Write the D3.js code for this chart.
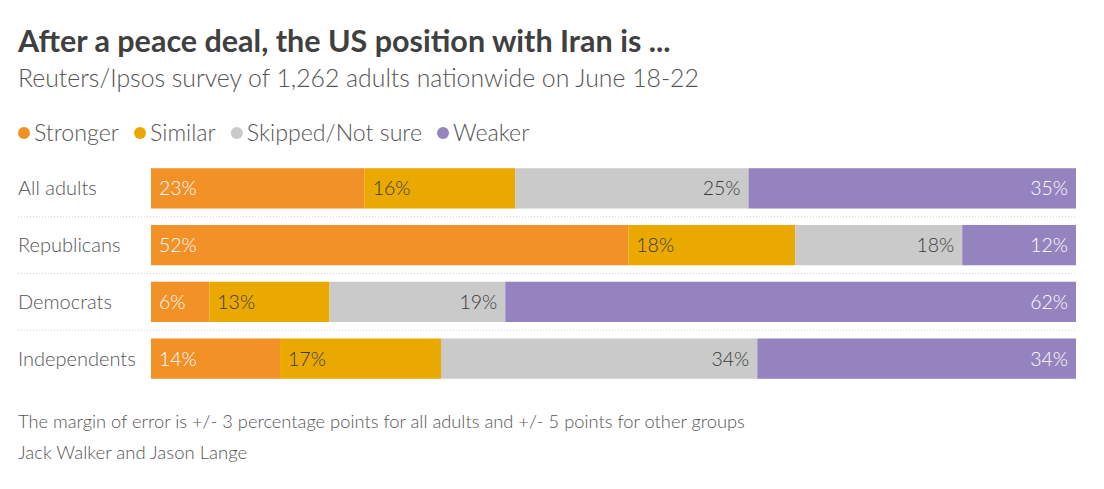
<!DOCTYPE html>
<html>
<head>
<meta charset="utf-8">
<script src="https://cdn.jsdelivr.net/npm/d3@7"></script>
<style>
  body { margin: 0; background: #fff; }
  svg text { font-family: Lato, "Open Sans", sans-serif; }
</style>
</head>
<body>
<div id="chart"></div>
<script>
// groups (rows), top to bottom
var groups = ["All adults", "Republicans", "Democrats", "Independents"];

// answer categories, left to right
var answers = ["Stronger", "Similar", "Skipped/Not sure", "Weaker"];
var colors = ["#f39129", "#e9a900", "#cacaca", "#9583bf"];
var labelColors = ["#fff", "#3a3a3a", "#3a3a3a", "#fff"];

// percent shares (labels are rounded)
var stronger = [23.1, 51.6, 6.3, 13.95];
var similar  = [16.3, 18.05, 13.0, 17.4];
var skipped  = [25.2, 18.05, 19.0, 34.2];
var weaker   = [35.4, 12.3, 61.7, 34.45];

var title = "After a peace deal, the US position with Iran is ...";
var subtitle = "Reuters/Ipsos survey of 1,262 adults nationwide on June 18-22";
var note = "The margin of error is +/- 3 percentage points for all adults and +/- 5 points for other groups";
var credit = "Jack Walker and Jason Lange";

var width = 1104, height = 489;

var svg = d3.select("#chart").append("svg")
  .attr("width", width)
  .attr("height", height);

// title block
svg.append("text")
  .attr("x", 18).attr("y", 52)
  .attr("font-size", 30.5).attr("font-weight", 700)
  .attr("fill", "#404040")
  .text(title);

svg.append("text")
  .attr("x", 18).attr("y", 87)
  .attr("font-size", 24.8).attr("font-weight", 300)
  .attr("fill", "#555")
  .text(subtitle);

// legend
var legend = svg.append("g").attr("transform", "translate(18,133)");
var lx = 0;
answers.forEach(function(a, i) {
  var g = legend.append("g").attr("transform", "translate(" + lx + ",0)");
  g.append("circle").attr("cx", 6).attr("cy", 0).attr("r", 6).attr("fill", colors[i]);
  var t = g.append("text")
    .attr("x", 16).attr("y", 8)
    .attr("font-size", 23.2).attr("font-weight", 300)
    .attr("fill", "#555")
    .text(a);
  lx += 16 + t.node().getComputedTextLength() + 15;
});

// stacked data
var rows = groups.map(function(g, i) {
  return { group: g, Stronger: stronger[i], Similar: similar[i], "Skipped/Not sure": skipped[i], Weaker: weaker[i] };
});
var series = d3.stack().keys(answers)(rows);

var x = d3.scaleLinear().domain([0, 100]).range([151, 1076]);
var y = d3.scaleBand().domain(groups).range([160, 387]).paddingInner(0.29).paddingOuter(0.145);

// dotted separators between rows
svg.selectAll("line.sep")
  .data(groups.slice(1))
  .enter()
  .append("line")
  .attr("class", "sep")
  .attr("x1", 18).attr("x2", 1076)
  .attr("y1", function(d) { return y(d) - y.step() * y.paddingInner() / 2; })
  .attr("y2", function(d) { return y(d) - y.step() * y.paddingInner() / 2; })
  .attr("stroke", "#cfcfcf")
  .attr("stroke-width", 1)
  .attr("stroke-dasharray", "1,2");

// row labels
svg.selectAll("text.group")
  .data(groups)
  .enter()
  .append("text")
  .attr("class", "group")
  .attr("x", 18)
  .attr("y", function(d) { return y(d) + y.bandwidth() / 2 + 7; })
  .attr("font-size", 20).attr("font-weight", 300)
  .attr("fill", "#555")
  .text(function(d) { return d; });

// bars
var layer = svg.selectAll("g.layer")
  .data(series)
  .enter()
  .append("g")
  .attr("class", "layer")
  .attr("fill", function(d, i) { return colors[i]; });

layer.selectAll("rect")
  .data(function(d) { return d; })
  .enter()
  .append("rect")
  .attr("x", function(d) { return x(d[0]); })
  .attr("y", function(d) { return y(d.data.group); })
  .attr("width", function(d) { return x(d[1]) - x(d[0]); })
  .attr("height", y.bandwidth());

// value labels: first two left aligned, last two right aligned
layer.each(function(s, i) {
  d3.select(this).selectAll("text")
    .data(s)
    .enter()
    .append("text")
    .attr("x", function(d) { return i < 2 ? x(d[0]) + 8 : x(d[1]) - 8; })
    .attr("y", function(d) { return y(d.data.group) + y.bandwidth() / 2 + 7; })
    .attr("text-anchor", i < 2 ? "start" : "end")
    .attr("font-size", 19.5).attr("font-weight", 300)
    .attr("fill", labelColors[i])
    .text(function(d) { return Math.round(d[1] - d[0]) + "%"; });
});

// footer
svg.append("text")
  .attr("x", 18).attr("y", 428)
  .attr("font-size", 18.3).attr("font-weight", 300)
  .attr("fill", "#555")
  .text(note);

svg.append("text")
  .attr("x", 18).attr("y", 459)
  .attr("font-size", 18.5).attr("font-weight", 300)
  .attr("fill", "#555")
  .text(credit);
</script>
</body>
</html>
